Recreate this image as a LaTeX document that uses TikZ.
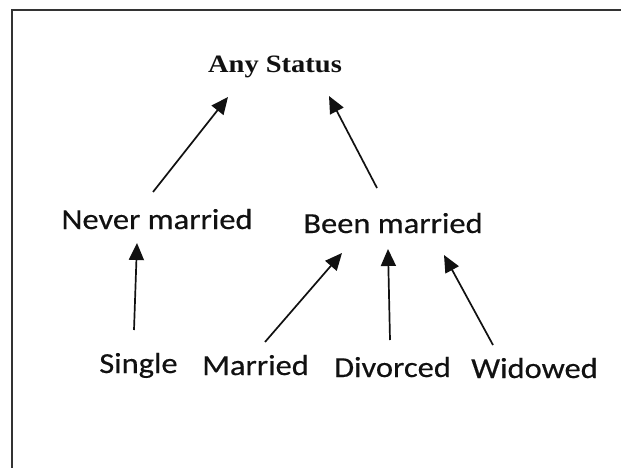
\documentclass[tikz,border=0pt]{standalone}
\usepackage{fontspec}
\usepackage{graphicx}
\setmainfont{Carlito}
\newfontfamily\lblfont{Carlito}[FakeBold=0.4]
\newfontfamily\serifbold{Liberation Serif}
\usetikzlibrary{arrows.meta}
\definecolor{ink}{HTML}{111111}
\definecolor{frame}{HTML}{333333}
\begin{document}
\begin{tikzpicture}[x=1pt,y=-1pt,
  lbl/.style={inner sep=0pt, anchor=base, text=ink, font=\lblfont\fontsize{29}{34}\selectfont},
  title/.style={inner sep=0pt, anchor=base, text=ink, font=\serifbold\bfseries\fontsize{25}{30}\selectfont},
  arr/.style={draw=ink, line width=1.7pt, -{Triangle[length=17pt,width=15pt]}}]
\useasboundingbox (0,0) rectangle (621,468);
\fill[white] (0,0) rectangle (621,468);
\draw[frame, line width=2pt] (11.5,468) -- (11.5,10.5) -- (621,10.5);

\node[title] (any) at (275,73) {\scalebox{1.14}[1]{Any Status}};
\node[lbl] (never) at (157,229) {\scalebox{1.12}[1]{Never married}};
\node[lbl] (been) at (393,233) {\scalebox{1.12}[1]{Been married}};
\node[lbl] (single) at (138.5,373) {\scalebox{1.12}[1]{Single}};
\node[lbl] (married) at (255.5,375) {\scalebox{1.12}[1]{Married}};
\node[lbl] (divorced) at (392.5,377) {\scalebox{1.12}[1]{Divorced}};
\node[lbl] (widowed) at (534.5,378) {\scalebox{1.12}[1]{Widowed}};

\draw[arr] ([shift={(-4,-37)}]never.base) -- ([shift={(-47,24)}]any.base);
\draw[arr] ([shift={(-16,-45)}]been.base) -- ([shift={(54,23)}]any.base);
\draw[arr] ([shift={(-4.5,-43)}]single.base) -- ([shift={(-20,14)}]never.base);
\draw[arr] ([shift={(9.5,-33)}]married.base) -- ([shift={(-51,20)}]been.base);
\draw[arr] ([shift={(-2.5,-37)}]divorced.base) -- ([shift={(-5,16)}]been.base);
\draw[arr] ([shift={(-41.5,-33)}]widowed.base) -- ([shift={(51,22)}]been.base);
\end{tikzpicture}
\end{document}
